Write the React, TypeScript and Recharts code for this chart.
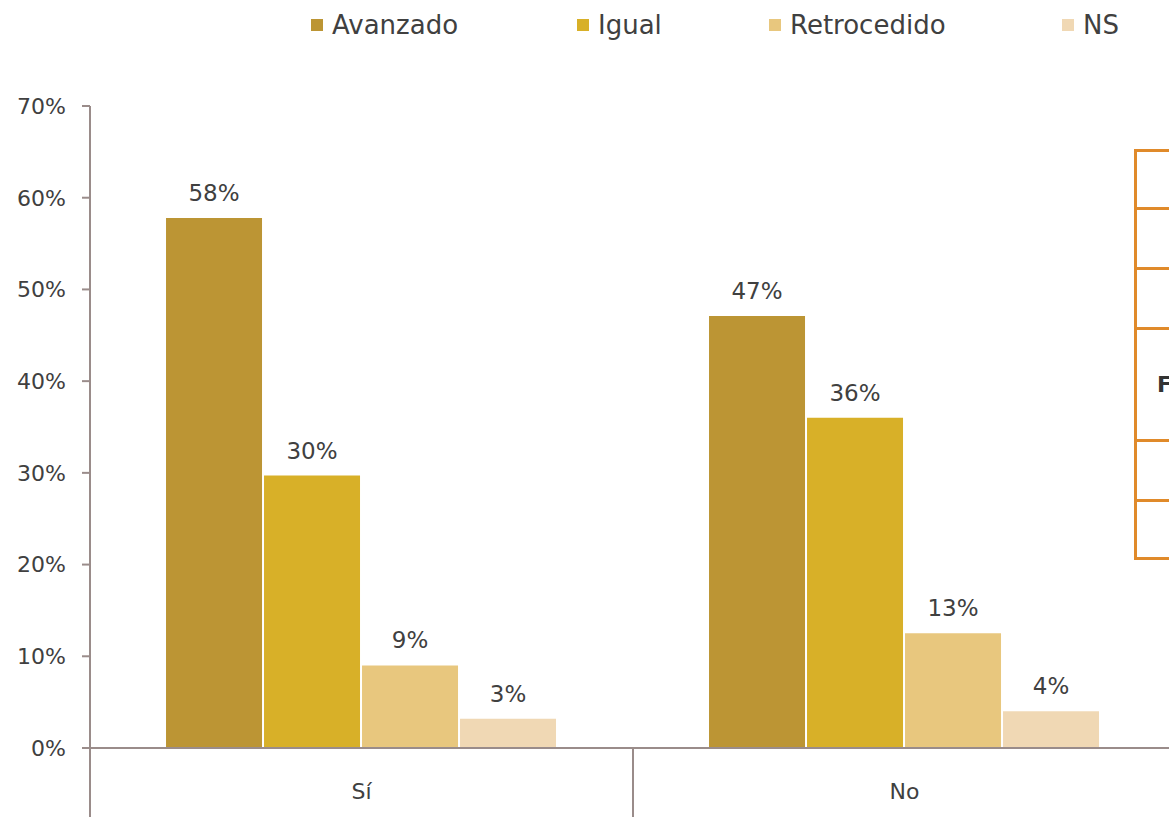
import React from "react";
import { BarChart, Bar, XAxis, YAxis, LabelList, Legend } from "recharts";

const categories = ["Sí", "No"];
const avanzado = [57.8, 47.1];
const igual = [29.7, 36.0];
const retrocedido = [9.0, 12.5];
const ns = [3.2, 4.0];
const yTicks = [0, 10, 20, 30, 40, 50, 60, 70];

const seriesNames = ["Avanzado", "Igual", "Retrocedido", "NS"];
const seriesKeys = ["avanzado", "igual", "retrocedido", "ns"];
const seriesColors = ["#BC9534", "#D8B028", "#E8C77E", "#F0D8B4"];

const data = categories.map((c, i) => ({
  cat: c,
  avanzado: avanzado[i],
  igual: igual[i],
  retrocedido: retrocedido[i],
  ns: ns[i],
}));

const FONT = "'DejaVu Sans', sans-serif";
const TEXT = "#404040";
const AXIS = "#9A8C8A";
const legendLefts = [311, 577, 769, 1062];

const CatTick = (props: any) => {
  const { x, y, payload, index, visibleTicksCount } = props;
  const half = payload && payload.offset ? payload.offset : 0;
  const last = index === (visibleTicksCount ?? categories.length) - 1;
  return (
    <g>
      <line x1={x - half} x2={x - half} y1={y} y2={y + 69} stroke={AXIS} strokeWidth={2} />
      {last && <line x1={x + half} x2={x + half} y1={y} y2={y + 69} stroke={AXIS} strokeWidth={2} />}
      <text x={x} y={y + 51} textAnchor="middle" fill={TEXT} fontSize={22} fontFamily={FONT}>
        {payload.value}
      </text>
    </g>
  );
};

const LegendContent = () => (
  <div style={{ position: "relative", width: 1169, height: 50 }}>
    {seriesNames.map((n, i) => (
      <div
        key={n}
        style={{
          position: "absolute",
          left: legendLefts[i],
          top: 9,
          display: "flex",
          alignItems: "center",
          fontFamily: FONT,
          fontSize: 26,
          color: TEXT,
          whiteSpace: "nowrap",
          lineHeight: "32px",
        }}
      >
        <span style={{ width: 12, height: 12, background: seriesColors[i], display: "inline-block", marginRight: 9 }} />
        <span>{n}</span>
      </div>
    ))}
  </div>
);

export default function App() {
  return (
    <div style={{ position: "absolute", left: 0, top: 0, width: 1169, height: 817, overflow: "hidden", background: "#fff" }}>
      <BarChart
        width={1186}
        height={817}
        data={data}
        margin={{ top: 56, right: 10, bottom: 0, left: 0 }}
        barCategoryGap="14%"
        barGap={2}
      >
        <Legend
          verticalAlign="top"
          content={<LegendContent />}
          wrapperStyle={{ position: "absolute", top: 0, left: 0, width: 1169, height: 50 }}
        />
        <XAxis
          dataKey="cat"
          height={69}
          axisLine={{ stroke: AXIS, strokeWidth: 2 }}
          tickLine={false}
          tickSize={0}
          tickMargin={0}
          tick={<CatTick />}
          interval={0}
        />
        <YAxis
          width={90}
          domain={[0, 70]}
          ticks={yTicks}
          interval={0}
          tickFormatter={(v: number) => `${v}%`}
          axisLine={{ stroke: AXIS, strokeWidth: 2 }}
          tickLine={{ stroke: AXIS, strokeWidth: 2 }}
          tickSize={8}
          tickMargin={16}
          tick={{ fill: TEXT, fontSize: 22, fontFamily: FONT }}
        />
        {seriesKeys.map((k, i) => (
          <Bar key={k} dataKey={k} name={seriesNames[i]} fill={seriesColors[i]} isAnimationActive={false}>
            <LabelList
              dataKey={k}
              position="top"
              offset={17}
              formatter={(v: any) => `${Math.round(Number(v))}%`}
              fill={TEXT}
              fontSize={23}
              fontFamily={FONT}
            />
          </Bar>
        ))}
      </BarChart>
      <div
        style={{
          position: "absolute",
          left: 1134,
          top: 149,
          width: 80,
          borderLeft: "3px solid #E08A2A",
          borderTop: "3px solid #E08A2A",
          borderBottom: "3px solid #E08A2A",
          fontFamily: FONT,
        }}
      >
        {[55, 57, 57, 109, 57, 55].map((h, i) => (
          <div
            key={i}
            style={{
              height: h,
              borderTop: i === 0 ? "none" : "3px solid #E08A2A",
              display: "flex",
              alignItems: "center",
              paddingLeft: 20,
              fontWeight: "bold",
              fontSize: 22,
              color: "#333",
            }}
          >
            {i === 3 ? "F" : ""}
          </div>
        ))}
      </div>
    </div>
  );
}
